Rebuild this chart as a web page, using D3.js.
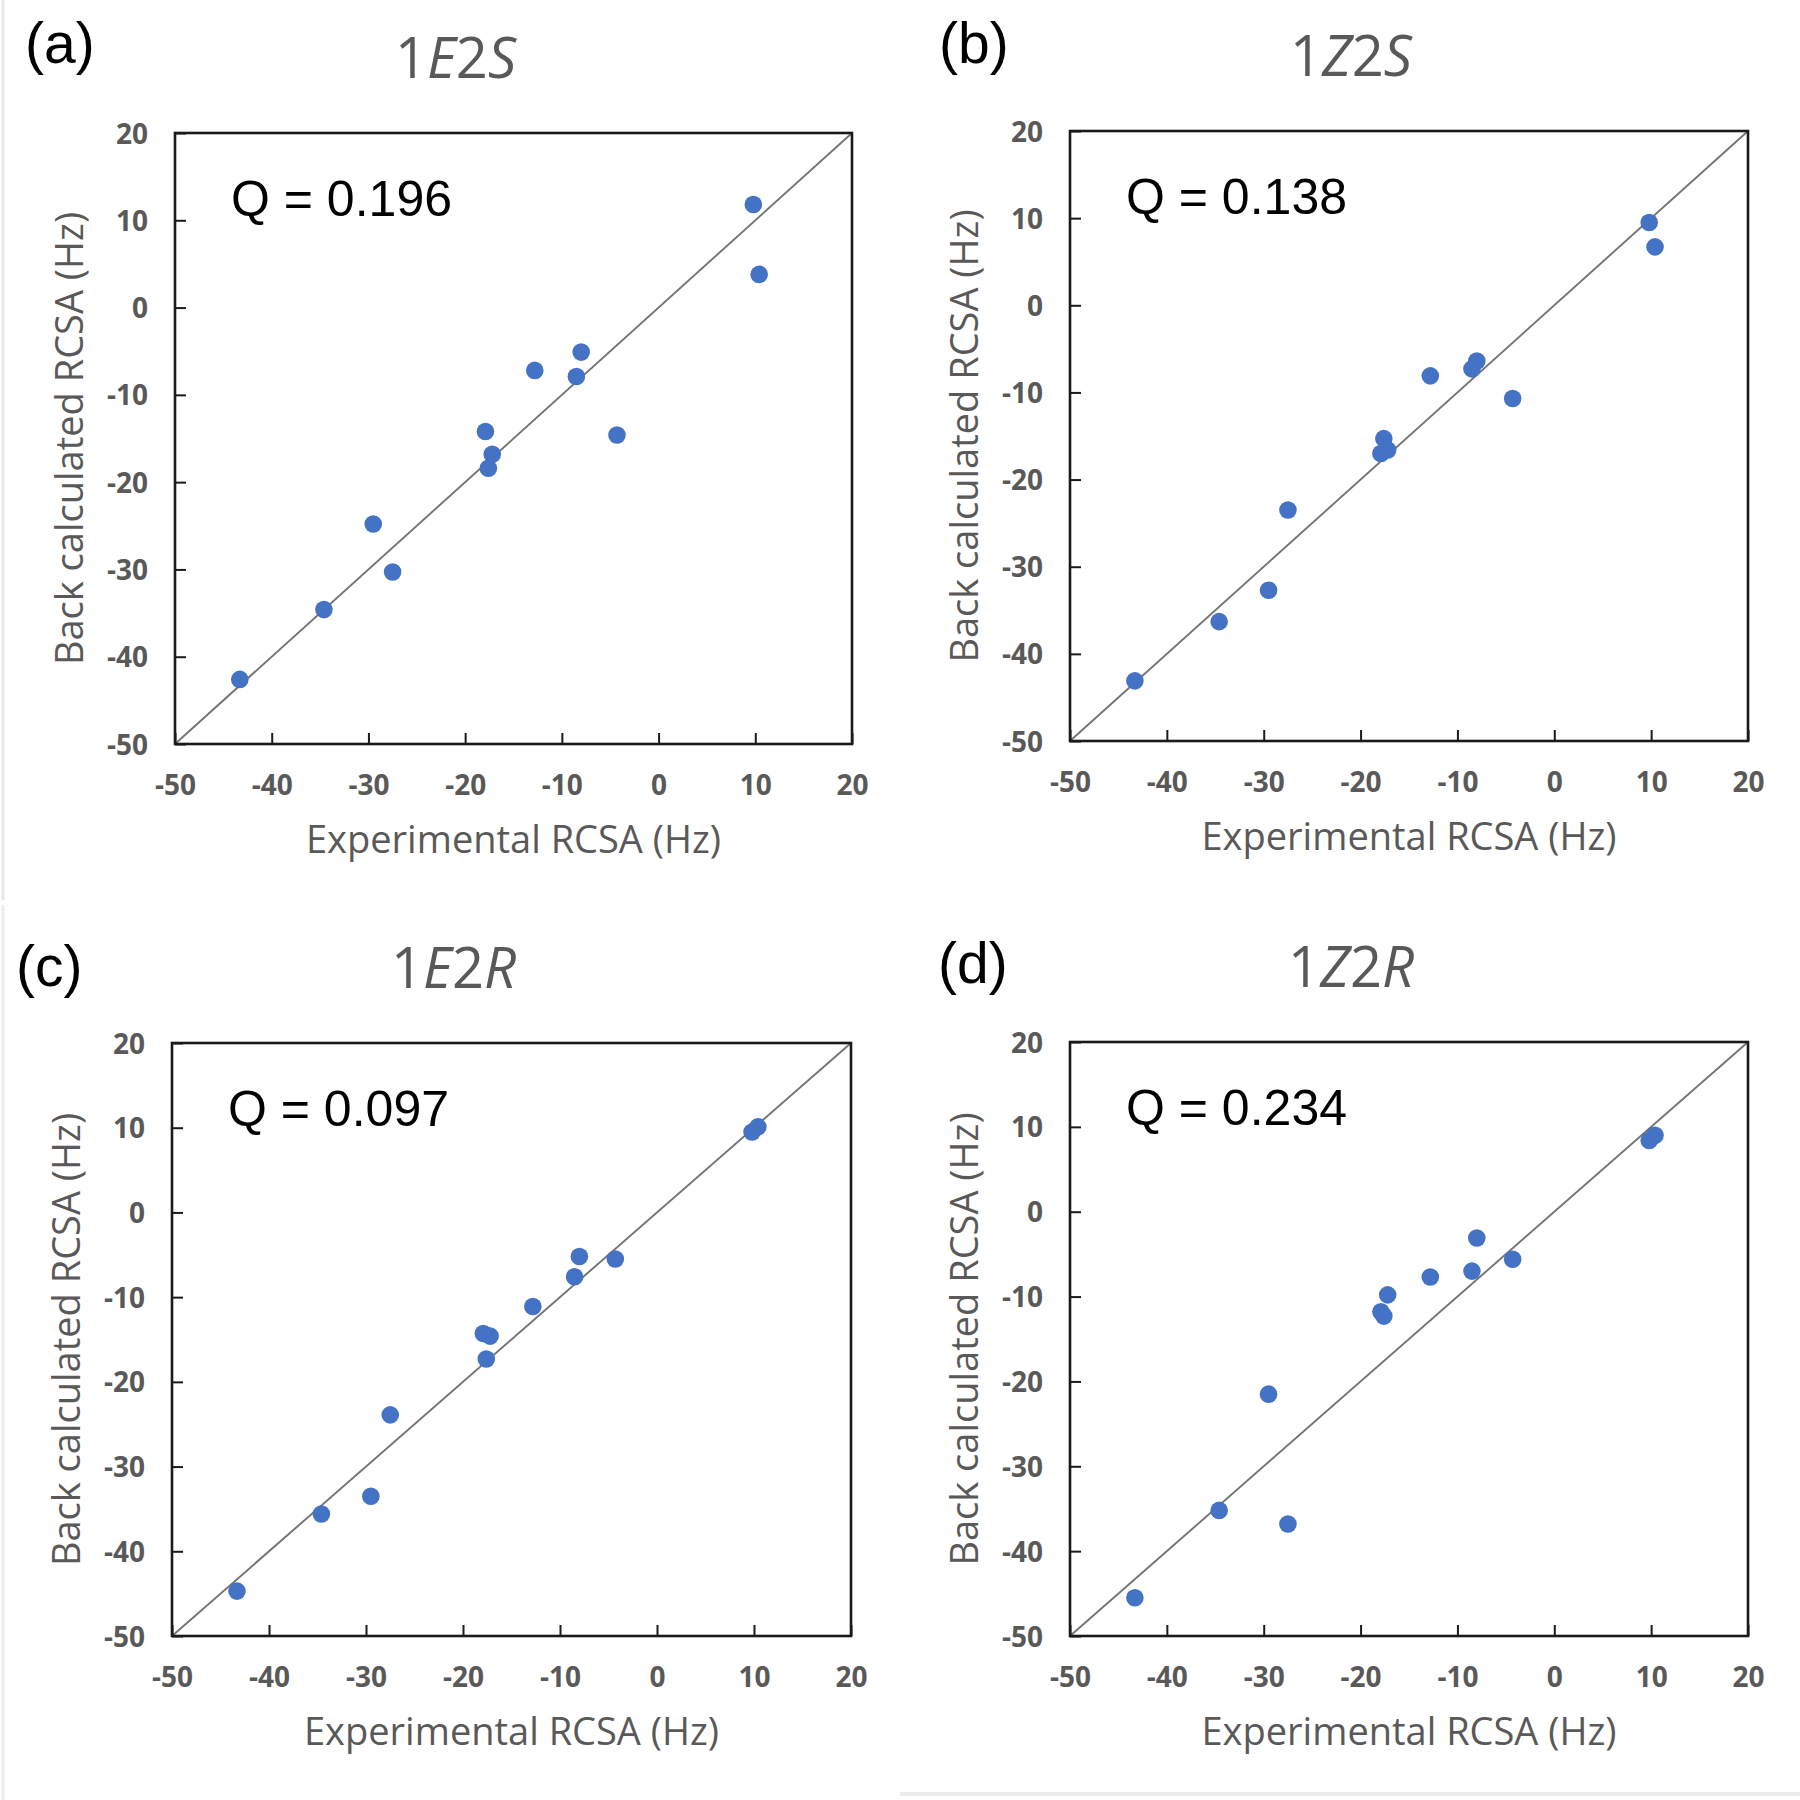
<!DOCTYPE html>
<html>
<head>
<meta charset="utf-8">
<script src="https://cdn.jsdelivr.net/npm/d3@7"></script>
<style>
  html, body { margin: 0; padding: 0; background: #ffffff; }
  svg { display: block; }
</style>
</head>
<body>
<svg id="chart" width="1800" height="1800"></svg>
<script>
// ---------- DATA ----------
const experimental = [-43.3, -34.6, -29.5, -27.5, -17.9, -17.6, -17.2, -12.8, -8.5, -8.0, -4.3, 9.8, 10.4];
const back1E2S = [-42.6, -34.6, -24.8, -30.3, -14.2, -18.4, -16.8, -7.2, -7.9, -5.1, -14.6, 11.8, 3.8];
const back1Z2S = [-43.1, -36.3, -32.7, -23.5, -17.0, -15.3, -16.6, -8.1, -7.3, -6.4, -10.7, 9.5, 6.7];
const back1E2R = [-44.7, -35.6, -33.5, -23.9, -14.3, -17.3, -14.6, -11.1, -7.6, -5.2, -5.5, 9.5, 10.1];
const back1Z2R = [-45.5, -35.2, -21.5, -36.8, -11.8, -12.3, -9.8, -7.7, -7.0, -3.1, -5.6, 8.4, 9.0];
const panelLabels = ["(a)", "(b)", "(c)", "(d)"];
const panelTitles = ["1E2S", "1Z2S", "1E2R", "1Z2R"];
const qValues = ["0.196", "0.138", "0.097", "0.234"];
const axisTicks = [-50, -40, -30, -20, -10, 0, 10, 20];
const axisDomain = [-50, 20];
const xAxisTitle = "Experimental RCSA (Hz)";
const yAxisTitle = "Back calculated RCSA (Hz)";
const backSeries = [back1E2S, back1Z2S, back1E2R, back1Z2R];

// ---------- LAYOUT ----------
const frames = [
  {left: 175, right: 852, top: 133, bottom: 744},
  {left: 1070, right: 1748, top: 131, bottom: 741},
  {left: 172, right: 851, top: 1043, bottom: 1636},
  {left: 1070, right: 1748, top: 1042, bottom: 1636}
];
const labelPos = [
  {x: 25, y: 63}, {x: 939, y: 63}, {x: 16, y: 986}, {x: 938, y: 983}
];

const svg = d3.select("#chart");
svg.append("rect").attr("width", 1800).attr("height", 1800).attr("fill", "#fff");

// faint screenshot borders
svg.append("line").attr("x1", 3).attr("x2", 3).attr("y1", 0).attr("y2", 900)
  .attr("stroke", "#e8e8e8").attr("stroke-width", 3);
svg.append("line").attr("x1", 3).attr("x2", 3).attr("y1", 905).attr("y2", 1800)
  .attr("stroke", "#ececec").attr("stroke-width", 3);
svg.append("line").attr("x1", 900).attr("x2", 1800).attr("y1", 1794).attr("y2", 1794)
  .attr("stroke", "#ececec").attr("stroke-width", 4);

const gray = "#595959";

frames.forEach((f, i) => {
  const x = d3.scaleLinear().domain(axisDomain).range([f.left, f.right]);
  const y = d3.scaleLinear().domain(axisDomain).range([f.bottom, f.top]);
  const g = svg.append("g");

  // diagonal y = x
  g.append("line")
    .attr("x1", x(axisDomain[0])).attr("y1", y(axisDomain[0]))
    .attr("x2", x(axisDomain[1])).attr("y2", y(axisDomain[1]))
    .attr("stroke", "#747474").attr("stroke-width", 1.9);

  // axes with inward ticks
  const xAxis = d3.axisBottom(x).tickValues(axisTicks).tickFormat(d => String(d))
    .tickSizeInner(-11).tickSizeOuter(0).tickPadding(31);
  const yAxis = d3.axisLeft(y).tickValues(axisTicks).tickFormat(d => String(d))
    .tickSizeInner(-11).tickSizeOuter(0).tickPadding(27);

  const gx = g.append("g").attr("transform", `translate(0,${f.bottom})`).call(xAxis);
  const gy = g.append("g").attr("transform", `translate(${f.left},0)`).call(yAxis);
  [gx, gy].forEach(a => {
    a.select(".domain").remove();
    a.selectAll(".tick line").attr("stroke", "#1a1a1a").attr("stroke-width", 2);
    a.selectAll(".tick text")
      .attr("fill", gray)
      .style("font-family", "'Open Sans', sans-serif")
      .style("font-weight", "700")
      .style("font-size", "28px");
  });
  gy.selectAll(".tick text").attr("dy", "0.36em");

  // frame
  g.append("rect")
    .attr("x", f.left).attr("y", f.top)
    .attr("width", f.right - f.left).attr("height", f.bottom - f.top)
    .attr("fill", "none").attr("stroke", "#1a1a1a").attr("stroke-width", 2.6);

  // points
  g.selectAll("circle.pt").data(experimental.map((e, k) => [e, backSeries[i][k]]))
    .enter().append("circle").attr("class", "pt")
    .attr("cx", d => x(d[0])).attr("cy", d => y(d[1]))
    .attr("r", 8.8).attr("fill", "#4472C4");

  // Q label
  g.append("text")
    .attr("x", f.left + 56).attr("y", f.top + 83)
    .style("font-family", "'Liberation Sans', Arial, sans-serif")
    .style("font-size", "50px").attr("fill", "#000")
    .text("Q = " + qValues[i]);

  // axis titles
  g.append("text")
    .attr("x", (f.left + f.right) / 2).attr("y", f.bottom + 109)
    .attr("text-anchor", "middle")
    .style("font-family", "'Open Sans', sans-serif").style("font-size", "38px")
    .attr("fill", gray).text(xAxisTitle);
  const cy = (f.top + f.bottom) / 2;
  g.append("text")
    .attr("transform", `translate(${f.left - 92},${cy}) rotate(-90)`)
    .attr("text-anchor", "middle")
    .style("font-family", "'Open Sans', sans-serif").style("font-size", "38px")
    .attr("fill", gray).text(yAxisTitle);

  // panel title with italic letters
  const t = g.append("text")
    .attr("x", (f.left + f.right) / 2 - 58).attr("y", f.top - 55)
    .attr("text-anchor", "middle")
    .style("font-family", "'Open Sans', sans-serif").style("font-size", "56px")
    .attr("fill", gray);
  panelTitles[i].split("").forEach(ch => {
    t.append("tspan").text(ch)
      .style("font-style", /[A-Z]/.test(ch) ? "italic" : "normal");
  });

  // panel letter
  svg.append("text")
    .attr("x", labelPos[i].x).attr("y", labelPos[i].y)
    .style("font-family", "'Liberation Sans', Arial, sans-serif")
    .style("font-size", "57px").attr("fill", "#000")
    .text(panelLabels[i]);
});
</script>
</body>
</html>
